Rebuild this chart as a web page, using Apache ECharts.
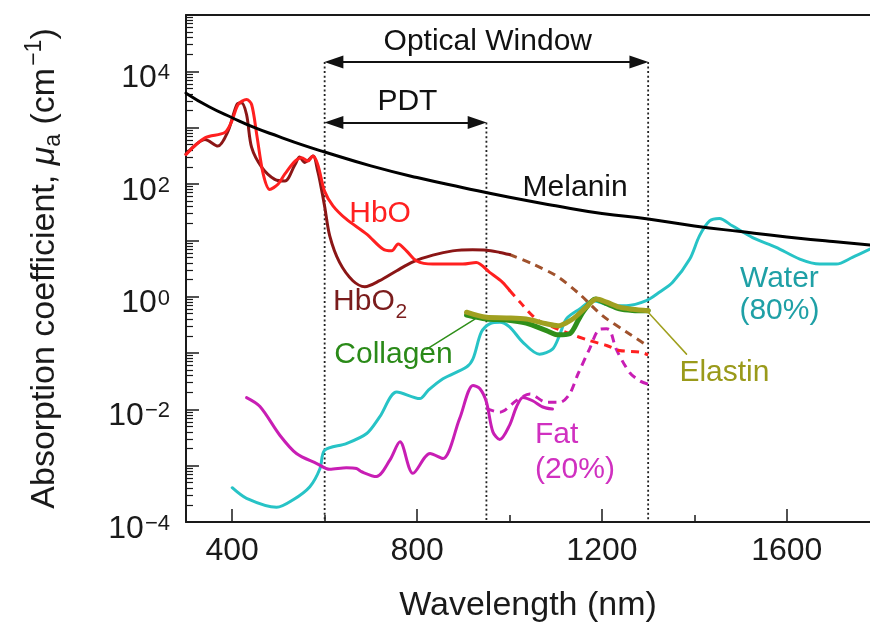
<!DOCTYPE html>
<html><head><meta charset="utf-8">
<script src="https://cdn.jsdelivr.net/npm/echarts@6/dist/echarts.min.js"></script>
<style>html,body{margin:0;padding:0;background:#fff}#c{width:870px;height:628px}</style>
</head><body><div id="c"></div>
<script>
// ---------------- data (wavelength nm, absorption cm^-1) ----------------
const melanin = [[300,4100],[350,2350],[400,1500],[450,990],[500,700],[550,500],[600,370],[700,210],[800,130],[900,86],[1000,58],[1100,41],[1200,30],[1300,24],[1400,18],[1500,14.3],[1600,11.5],[1700,9.5],[1780,8.3]];
const hboSolid = [[300,336],[341,660],[384,820],[399,1300],[413,2580],[431,3160],[442,2580],[453,760],[467,151],[481,80],[499,99],[514,151],[536,255],[550,293],[564,255],[574,313],[585,223],[600,74],[618,41],[647,23.7],[691,12.9],[726,7.0],[745,6.5],[759,8.6],[777,6.5],[799,4.3],[834,3.8],[899,3.8],[928,4.06],[957,2.7],[985,1.8],[1000,1.3]];
const hboDashed = [[1000,1.3],[1022,0.81],[1058,0.40],[1093,0.29],[1130,0.22],[1173,0.166],[1210,0.136],[1238,0.111],[1282,0.104],[1300,0.093]];
const hbo2Solid = [[300,336],[341,617],[369,471],[391,867],[410,2575],[420,2760],[431,1713],[442,446],[464,198],[492,121],[514,113],[536,223],[546,300],[557,242],[575,313],[585,170],[590,110],[600,40],[611,12.0],[632,4.1],[661,1.92],[687,1.5],[719,1.92],[756,2.89],[791,4.16],[834,5.47],[877,6.5],[920,6.8],[950,6.7],[979,6.1],[1000,5.6]];
const hbo2Dashed = [[1000,5.6],[1050,3.8],[1101,2.35],[1151,1.12],[1201,0.46],[1253,0.237],[1292,0.145]];
const water = [[400,4.06e-4],[431,2.63e-4],[496,1.82e-4],[531,2.45e-4],[568,4.23e-4],[590,8.9e-4],[600,1.88e-3],[647,2.47e-3],[691,3.72e-3],[719,7.33e-3],[756,0.0203],[806,0.0155],[824,0.0217],[856,0.0349],[907,0.0563],[921,0.079],[939,0.234],[957,0.329],[979,0.352],[1000,0.291],[1028,0.158],[1065,0.095],[1093,0.117],[1108,0.204],[1123,0.403],[1152,0.605],[1180,0.85],[1223,0.693],[1253,0.693],[1296,0.85],[1325,1.21],[1353,1.80],[1390,4.65],[1411,12.0],[1433,22.1],[1454,24.4],[1482,18.1],[1526,11.2],[1577,7.5],[1628,4.65],[1671,3.79],[1707,3.79],[1742,4.98],[1780,6.98]];
const fatSolid = [[431,0.0161],[460,0.0112],[503,3.47e-3],[539,1.64e-3],[583,1.09e-3],[611,8.6e-4],[647,9.2e-4],[669,8.9e-4],[680,7.8e-4],[712,6.4e-4],[741,1.25e-3],[763,2.65e-3],[791,7.3e-4],[828,1.64e-3],[856,1.34e-3],[892,6.84e-3],[921,0.0266],[936,0.0232],[950,0.0135],[964,3.98e-3],[979,2.91e-3],[1000,5.2e-3],[1015,0.011],[1029,0.0163],[1050,0.0142],[1072,0.011],[1093,0.0101]];
const fatDashed = [[950,0.0103],[979,0.0089],[1015,0.0143],[1044,0.0187],[1080,0.0133],[1109,0.0133],[1130,0.0187],[1148,0.042],[1173,0.117],[1195,0.265],[1210,0.27],[1218,0.25],[1231,0.117],[1260,0.045],[1282,0.032],[1300,0.028]];
const collagen = [[907,0.47],[950,0.40],[993,0.385],[1036,0.34],[1080,0.25],[1105,0.21],[1130,0.22],[1150,0.40],[1160,0.55],[1186,0.91],[1210,0.75],[1238,0.61],[1266,0.57],[1300,0.56]];
const elastin = [[907,0.53],[950,0.43],[993,0.42],[1036,0.40],[1080,0.33],[1105,0.305],[1125,0.35],[1140,0.42],[1166,0.65],[1188,0.91],[1210,0.80],[1238,0.65],[1266,0.60],[1300,0.565]];

// axis ticks / labels
const xRange = [300, 1780];
const xTickLabels = [400, 800, 1200, 1600];
const xMinorTicks = [600, 1000, 1400];
const yRange = [1e-4, 1e5];
const yLabelExponents = [-4, -2, 0, 2, 4];
const yDecadeExponents = [-4, -3, -2, -1, 0, 1, 2, 3, 4, 5];
const yMinorMantissas = [2, 3, 4, 5, 6, 7, 8, 9];

// window markers (nm) and arrow levels (cm^-1)
const opticalWindow = [600, 1300];
const pdtWindow = [600, 950];
const windowArrowLevel = 14700;
const pdtArrowLevel = 1240;

// annotation texts: [text, nm, value, colourKey, kind]
const notes = [
  ['Optical Window', 953, 33300, 'ink', 'c'],
  ['PDT', 779, 2880, 'ink', 'c'],
  ['Melanin', 1142, 85, 'ink', 'c'],
  ['HbO', 720, 30, 'hbo', 'c'],
  ['HbO', 685, 0.81, 'hbo2t', 'c'],
  ['2', 766, 0.52, 'hbo2t', 'sub'],
  ['Collagen', 749, 0.092, 'collagent', 'c'],
  ['Water', 1584, 2.12, 'watert', 'c'],
  ['(80%)', 1584, 0.563, 'watert', 'c'],
  ['Elastin', 1465, 0.044, 'elastint', 'c'],
  ['Fat', 1055, 3.52e-3, 'fatt', 'l'],
  ['(20%)', 1055, 8.44e-4, 'fatt', 'l']
];
const collagenLeader = [[821, 0.117], [925, 0.398]];
const elastinLeader = [[1300, 0.53], [1383, 0.0955]];

// ---------------- styles ----------------
const FONT = '"Liberation Sans", Arial, Helvetica, sans-serif';
const C = {
  ink: '#111111', melanin: '#000000', hbo: '#ff2020', hbo2: '#8b1616', hbo2d: '#a0522d',
  water: '#27c3c6', fat: '#c81eb4', collagen: '#2f8f1a', elastin: '#a0a020',
  hbo2t: '#7a1c1c', collagent: '#2a8a18', watert: '#1fa0a6', elastint: '#9a9a1a', fatt: '#d030c0'
};
const DASH = [8, 6];
const AXIS_COLOR = '#1a1a1a';

function line(data, color, width, dashed, z, smooth) {
  return {
    type: 'line', data, symbol: 'none', showSymbol: false, silent: true, animation: false,
    smooth: smooth == null ? 0.3 : smooth, z, clip: true,
    lineStyle: { color, width, type: dashed ? DASH : 'solid', cap: dashed ? 'butt' : 'round', join: 'round' }
  };
}
function vline(x, fromVal) {
  return {
    type: 'line', data: [[x, fromVal], [x, yRange[0]]], symbol: 'none', silent: true, animation: false, z: 1,
    lineStyle: { color: '#222', width: 1.8, type: [2, 2.6] }
  };
}

const pow10 = e => Math.pow(10, e);
const yMinorTicks = [];
yDecadeExponents.slice(0, -1).forEach(e => yMinorMantissas.forEach(m => yMinorTicks.push(m * pow10(e))));

const arrowInset = 20; // nm, half arrow head length
const arrowSeries = vline(opticalWindow[0], windowArrowLevel);
arrowSeries.markLine = {
  silent: true, animation: false, symbol: ['triangle', 'triangle'], symbolSize: [13, 19],
  label: { show: false }, emphasis: { disabled: true },
  lineStyle: { type: 'solid', color: '#111', width: 2 },
  itemStyle: { color: '#111' },
  data: [
    [{ coord: [opticalWindow[0] + arrowInset, windowArrowLevel] }, { coord: [opticalWindow[1] - arrowInset, windowArrowLevel] }],
    [{ coord: [pdtWindow[0] + arrowInset, pdtArrowLevel] }, { coord: [pdtWindow[1] - arrowInset, pdtArrowLevel] }]
  ]
};

const supFmt = e => '{b|10}{s|' + (e < 0 ? '\u2212' : '') + Math.abs(e) + '}';

const option = {
  animation: false,
  backgroundColor: '#fff',
  grid: { left: 186, right: 0, top: 15, bottom: 105, containLabel: false },
  xAxis: [
    {
      type: 'value', min: xRange[0], max: xRange[1], position: 'bottom',
      name: 'Wavelength (nm)', nameLocation: 'middle', nameGap: 67,
      nameTextStyle: { fontFamily: FONT, fontSize: 34, color: AXIS_COLOR },
      axisLine: { show: true, onZero: false, lineStyle: { color: AXIS_COLOR, width: 2 } },
      axisTick: { show: true, inside: true, length: 13, customValues: xTickLabels, lineStyle: { color: AXIS_COLOR, width: 1.5 } },
      axisLabel: { show: true, customValues: xTickLabels, margin: 13, fontFamily: FONT, fontSize: 32, color: AXIS_COLOR, formatter: v => String(v) },
      splitLine: { show: false }
    },
    {
      type: 'value', min: xRange[0], max: xRange[1], position: 'bottom',
      axisLine: { show: false, onZero: false },
      axisTick: { show: true, inside: true, length: 7, customValues: xMinorTicks, lineStyle: { color: AXIS_COLOR, width: 1.5 } },
      axisLabel: { show: false }, splitLine: { show: false }
    },
    {
      type: 'value', min: xRange[0], max: xRange[1], position: 'top',
      axisLine: { show: true, onZero: false, lineStyle: { color: AXIS_COLOR, width: 2 } },
      axisTick: { show: false }, axisLabel: { show: false }, splitLine: { show: false }
    }
  ],
  yAxis: [
    {
      type: 'log', logBase: 10, min: yRange[0], max: yRange[1], position: 'left',
      name: 'Absorption coefficient, {i|\u03bc}{sub|a} (cm{sup|\u22121})',
      nameLocation: 'middle', nameGap: 118, nameRotate: 90,
      nameTextStyle: {
        fontFamily: FONT, fontSize: 34, color: AXIS_COLOR, lineHeight: 46,
        rich: {
          i: { fontFamily: FONT, fontSize: 34, fontStyle: 'italic', color: AXIS_COLOR, lineHeight: 46 },
          sub: { fontFamily: FONT, fontSize: 23, color: AXIS_COLOR, lineHeight: 23, verticalAlign: 'bottom', padding: [0, 0, 3, 0] },
          sup: { fontFamily: FONT, fontSize: 23, color: AXIS_COLOR, lineHeight: 23, verticalAlign: 'top', padding: [1, 0, 0, 2] }
        }
      },
      axisLine: { show: true, onZero: false, lineStyle: { color: AXIS_COLOR, width: 2 } },
      axisTick: { show: true, inside: true, length: 13, customValues: yDecadeExponents.map(pow10), lineStyle: { color: AXIS_COLOR, width: 1.5 } },
      axisLabel: {
        show: true, customValues: yLabelExponents.map(pow10), margin: 16,
        formatter: v => supFmt(Math.round(Math.log10(v))),
        rich: {
          b: { fontFamily: FONT, fontSize: 32, color: AXIS_COLOR, lineHeight: 34, padding: [14, 0, 0, 0] },
          s: { fontFamily: FONT, fontSize: 22, color: AXIS_COLOR, lineHeight: 22, verticalAlign: 'top', padding: [8, 0, 0, 1] }
        }
      },
      splitLine: { show: false }
    },
    {
      type: 'log', logBase: 10, min: yRange[0], max: yRange[1], position: 'left',
      axisLine: { show: false, onZero: false },
      axisTick: { show: true, inside: true, length: 7, customValues: yMinorTicks, lineStyle: { color: AXIS_COLOR, width: 1.2 } },
      axisLabel: { show: false }, splitLine: { show: false }
    }
  ],
  series: [
    arrowSeries,
    vline(pdtWindow[1], pdtArrowLevel),
    vline(opticalWindow[1], windowArrowLevel),
    line(water, C.water, 3, false, 2),
    line(fatSolid, C.fat, 3, false, 3),
    line(fatDashed, C.fat, 3, true, 3),
    line(hbo2Dashed, C.hbo2d, 3, true, 4),
    line(hboDashed, C.hbo, 3, true, 4),
    line(hbo2Solid, C.hbo2, 3, false, 5),
    line(hboSolid, C.hbo, 3, false, 5),
    line(collagen, C.collagen, 5, false, 6),
    line(elastin, C.elastin, 5, false, 7),
    line(collagenLeader, C.collagen, 1.5, false, 6, false),
    line(elastinLeader, C.elastin, 1.5, false, 6, false),
    line(melanin, C.melanin, 3, false, 8, true),
    {
      type: 'custom', coordinateSystem: 'cartesian2d', silent: true, animation: false, z: 10, clip: false,
      data: notes.map(n => [n[1], n[2]]),
      renderItem: (params, api) => {
        const n = notes[params.dataIndex];
        const p = api.coord([api.value(0), api.value(1)]);
        const isSub = n[4] === 'sub';
        return {
          type: 'text', x: p[0], y: p[1],
          style: {
            text: n[0], fill: C[n[3]], fontFamily: FONT, fontSize: isSub ? 21 : 30,
            align: n[4] === 'l' ? 'left' : 'center', verticalAlign: 'middle'
          }
        };
      }
    }
  ]
};
const chart = echarts.init(document.getElementById('c'));
chart.setOption(option);
</script></body></html>
